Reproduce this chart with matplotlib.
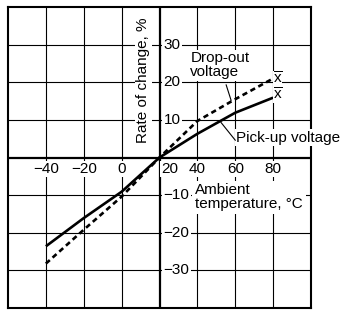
import matplotlib.pyplot as plt

plt.rcParams['font.family'] = ['Liberation Sans', 'DejaVu Sans']
plt.rcParams['mathtext.fontset'] = 'custom'
plt.rcParams['mathtext.rm'] = 'Liberation Sans'
plt.rcParams['mathtext.it'] = 'Liberation Sans'

# data (rate of change vs ambient temperature, ref 20 °C)
temp = [-40, -20, 0, 20, 40, 60, 80]
pickup = [-23.6, -16.1, -9.1, 0, 6.3, 11.9, 15.9]
dropout = [-28.2, -19.2, -10.4, 0, 9.7, 15.5, 21.0]

xticks = [-40, -20, 0, 20, 40, 60, 80]
yticks = [-30, -20, -10, 10, 20, 30]

fig = plt.figure(figsize=(3.46, 3.11), dpi=100)
ax = fig.add_axes([8/346, 3/311, 303/346, 301/311])
ax.set_xlim(-60, 100)
ax.set_ylim(-40, 40)
ax.set_xticks([])
ax.set_yticks([])
for s in ax.spines.values():
    s.set_linewidth(1.5)

# grid
for x in xticks:
    ax.axvline(x, color='black', lw=0.8 if x != 20 else 1.6, zorder=1)
for y in yticks + [0]:
    ax.axhline(y, color='black', lw=0.8 if y != 0 else 1.6, zorder=1)

# curves
ax.plot(temp, pickup, color='black', lw=1.9, solid_capstyle='butt', zorder=3)
ax.plot(temp, dropout, color='black', lw=1.9, linestyle=(0, (2, 1.4)), zorder=3)

box = dict(facecolor='white', edgecolor='none', pad=1)
fs = 11

# tick labels
for x in xticks:
    if x == 20:
        ax.text(25.5, -1.2, '20', ha='center', va='top', fontsize=fs, bbox=box, zorder=4)
    else:
        ax.text(x, -1.2, f'{x}'.replace('-', '\u2212'), ha='center', va='top', fontsize=fs,
                bbox=box, zorder=4)
for y in yticks:
    ax.text(22.2, y, f'{y}'.replace('-', '\u2212'), ha='left', va='center', fontsize=fs,
            bbox=box, zorder=4)

# axis titles
ax.text(11.5, 20.5, 'Rate of change, %', rotation=90, ha='center', va='center', fontsize=fs,
        bbox=box, zorder=4)
ax.text(38.8, -10.6, 'Ambient\ntemperature, \u00b0C', ha='left', va='center', fontsize=fs,
        linespacing=1.0, bbox=dict(facecolor='white', edgecolor='none', pad=2),
        zorder=5, clip_on=False)

# curve labels
ax.text(36.3, 24.5, 'Drop-out\nvoltage', ha='left', va='center', fontsize=fs,
        linespacing=1.0, bbox=box, zorder=4)
ax.plot([55.2, 57.8], [19.3, 15.2], color='black', lw=0.8, zorder=4)
ax.text(60.5, 5.3, 'Pick-up voltage', ha='left', va='center', fontsize=fs,
        bbox=box, zorder=4, clip_on=False)
ax.plot([52.5, 60], [9.3, 4.6], color='black', lw=0.8, zorder=4)

ax.text(82.3, 20.8, r'$\overline{\mathrm{x}}$', ha='center', va='center', fontsize=fs,
        bbox=dict(facecolor='white', edgecolor='none', pad=0), zorder=4)
ax.text(82.3, 16.6, r'$\overline{\mathrm{x}}$', ha='center', va='center', fontsize=fs,
        bbox=dict(facecolor='white', edgecolor='none', pad=0), zorder=4)

plt.savefig('out.png', dpi=100)
